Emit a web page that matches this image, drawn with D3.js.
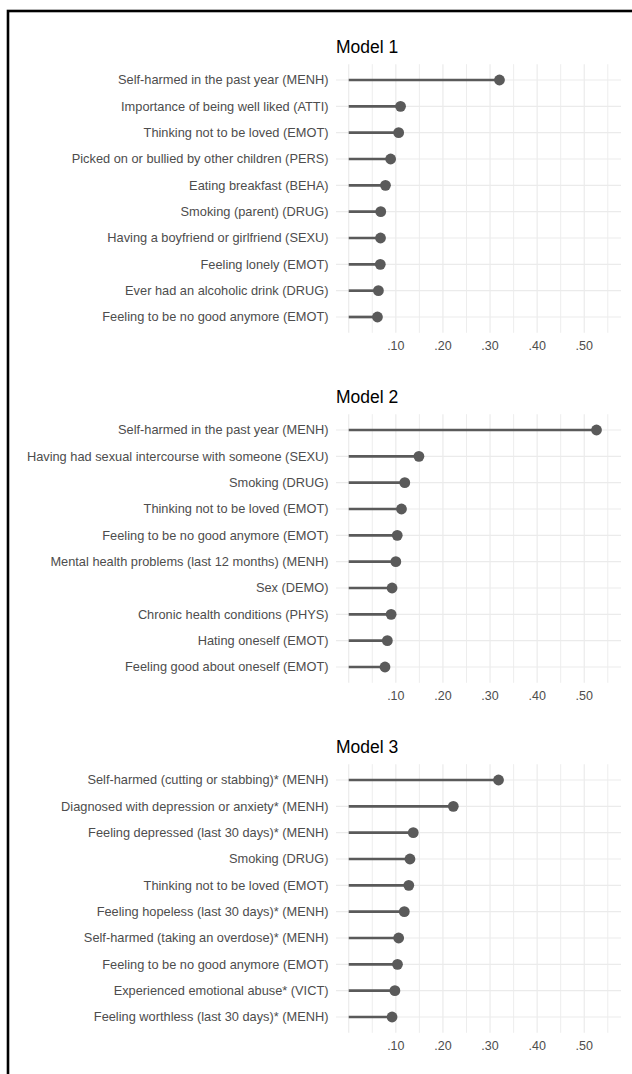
<!DOCTYPE html>
<html>
<head>
<meta charset="utf-8">
<script src="https://cdn.jsdelivr.net/npm/d3@7"></script>
<style>
  html, body { margin: 0; padding: 0; background: #fff; }
  svg { display: block; }
</style>
</head>
<body>
<script>
// Variable importance per model (lollipop panels)
const model1Labels = [
  "Self-harmed in the past year (MENH)",
  "Importance of being well liked (ATTI)",
  "Thinking not to be loved (EMOT)",
  "Picked on or bullied by other children (PERS)",
  "Eating breakfast (BEHA)",
  "Smoking (parent) (DRUG)",
  "Having a boyfriend or girlfriend (SEXU)",
  "Feeling lonely (EMOT)",
  "Ever had an alcoholic drink (DRUG)",
  "Feeling to be no good anymore (EMOT)"
];
const model1Values = [0.320, 0.110, 0.106, 0.089, 0.078, 0.068, 0.0675, 0.067, 0.063, 0.061];

const model2Labels = [
  "Self-harmed in the past year (MENH)",
  "Having had sexual intercourse with someone (SEXU)",
  "Smoking (DRUG)",
  "Thinking not to be loved (EMOT)",
  "Feeling to be no good anymore (EMOT)",
  "Mental health problems (last 12 months) (MENH)",
  "Sex (DEMO)",
  "Chronic health conditions (PHYS)",
  "Hating oneself (EMOT)",
  "Feeling good about oneself (EMOT)"
];
const model2Values = [0.526, 0.149, 0.119, 0.112, 0.103, 0.100, 0.092, 0.090, 0.082, 0.077];

const model3Labels = [
  "Self-harmed (cutting or stabbing)* (MENH)",
  "Diagnosed with depression or anxiety* (MENH)",
  "Feeling depressed (last 30 days)* (MENH)",
  "Smoking (DRUG)",
  "Thinking not to be loved (EMOT)",
  "Feeling hopeless (last 30 days)* (MENH)",
  "Self-harmed (taking an overdose)* (MENH)",
  "Feeling to be no good anymore (EMOT)",
  "Experienced emotional abuse* (VICT)",
  "Feeling worthless (last 30 days)* (MENH)"
];
const model3Values = [0.318, 0.222, 0.137, 0.130, 0.1275, 0.118, 0.106, 0.1035, 0.098, 0.092];

const modelTitles = ["Model 1", "Model 2", "Model 3"];
const majorTicks = [0, 0.10, 0.20, 0.30, 0.40, 0.50];
const majorTickLabels = ["", ".10", ".20", ".30", ".40", ".50"];
const minorTicks = [0.05, 0.15, 0.25, 0.35, 0.45, 0.55];

const panels = [
  { title: modelTitles[0], labels: model1Labels, values: model1Values },
  { title: modelTitles[1], labels: model2Labels, values: model2Values },
  { title: modelTitles[2], labels: model3Labels, values: model3Values }
];

const W = 632, H = 1074;
const font = "Liberation Sans, Arial, Helvetica, sans-serif";
const textGrey = "#4d4d4d";
const markGrey = "#5a5a5a";
const gridGrey = "#ebebeb";

const svg = d3.select("body").append("svg")
  .attr("width", W).attr("height", H);

// frame
svg.append("rect")
  .attr("x", 8).attr("y", 11)
  .attr("width", 800).attr("height", 1200)
  .attr("fill", "none").attr("stroke", "#000").attr("stroke-width", 2.6);

const panelLeft = 336, panelRight = 621;
const x = d3.scaleLinear().domain([-0.027, 0.578]).range([panelLeft, panelRight]);

const panelTop0 = 64.2, panelHeight = 268.6, panelGap = 350;

panels.forEach((p, i) => {
  const top = panelTop0 + i * panelGap;
  const bottom = top + panelHeight;
  const g = svg.append("g");

  const y = d3.scalePoint().domain(p.labels).range([top, bottom]).padding(0.6);

  // grid lines
  g.selectAll("line.minor").data(minorTicks).join("line")
    .attr("x1", d => x(d)).attr("x2", d => x(d))
    .attr("y1", top).attr("y2", bottom)
    .attr("stroke", gridGrey).attr("stroke-width", 0.9);
  g.selectAll("line.major").data(majorTicks).join("line")
    .attr("x1", d => x(d)).attr("x2", d => x(d))
    .attr("y1", top).attr("y2", bottom)
    .attr("stroke", gridGrey).attr("stroke-width", 1.2);
  g.selectAll("line.hgrid").data(p.labels).join("line")
    .attr("x1", panelLeft).attr("x2", panelRight)
    .attr("y1", d => y(d)).attr("y2", d => y(d))
    .attr("stroke", gridGrey).attr("stroke-width", 1.2);

  // title
  g.append("text")
    .attr("x", panelLeft).attr("y", top - 11.5)
    .attr("font-family", font).attr("font-size", 17.5)
    .attr("fill", "#000")
    .text(p.title);

  // category labels
  g.selectAll("text.cat").data(p.labels).join("text")
    .attr("x", panelLeft - 7.5).attr("y", d => y(d))
    .attr("dy", "0.35em")
    .attr("text-anchor", "end")
    .attr("font-family", font).attr("font-size", 12.8)
    .attr("fill", textGrey)
    .text(d => d);

  // x tick labels
  g.selectAll("text.tick").data(majorTicks).join("text")
    .attr("x", d => x(d)).attr("y", bottom + 17)
    .attr("text-anchor", "middle")
    .attr("font-family", font).attr("font-size", 12.5)
    .attr("fill", textGrey)
    .text((d, k) => majorTickLabels[k]);

  // lollipops
  const rows = p.labels.map((l, k) => ({ label: l, value: p.values[k] }));
  g.selectAll("line.stem").data(rows).join("line")
    .attr("x1", x(0)).attr("x2", d => x(d.value))
    .attr("y1", d => y(d.label)).attr("y2", d => y(d.label))
    .attr("stroke", markGrey).attr("stroke-width", 2.7);
  g.selectAll("circle.dot").data(rows).join("circle")
    .attr("cx", d => x(d.value)).attr("cy", d => y(d.label))
    .attr("r", 5.4)
    .attr("fill", markGrey);
});
</script>
</body>
</html>
